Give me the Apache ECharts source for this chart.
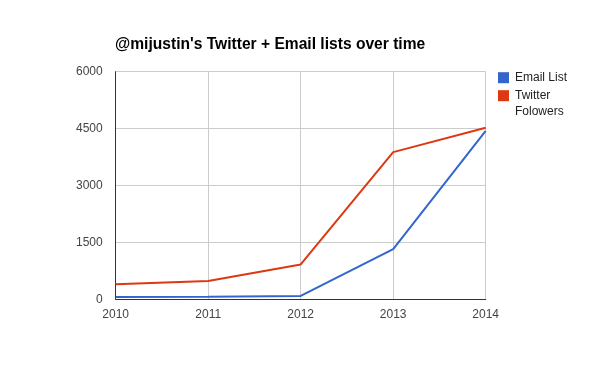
<!DOCTYPE html>
<html><head><meta charset="utf-8">
<script src="https://cdn.jsdelivr.net/npm/echarts@6/dist/echarts.min.js"></script>
<style>html,body{margin:0;padding:0;background:#fff}#c{width:600px;height:371px}</style>
</head><body><div id="c"></div>
<script>
const years = ['2010', '2011', '2012', '2013', '2014'];
const emailList = [60, 70, 90, 1320, 4440];
const twitterFollowers = [400, 480, 920, 3880, 4520];
const yTicks = [0, 1500, 3000, 4500, 6000];

const chart = echarts.init(document.getElementById('c'), null, {renderer: 'canvas'});
const font = 'Arial, "Liberation Sans", sans-serif';
chart.setOption({
  animation: false,
  backgroundColor: '#fff',
  title: {
    text: "@mijustin's Twitter + Email lists over time",
    left: 110, top: 32,
    textStyle: {fontFamily: font, fontSize: 15.6, fontWeight: 'bold', color: '#000'}
  },
  legend: {
    orient: 'vertical', left: 493, top: 64.7, itemGap: 2,
    icon: 'rect', itemWidth: 11, itemHeight: 11,
    textStyle: {fontFamily: font, fontSize: 12, color: '#222', lineHeight: 16, padding: [0, 0, 0, 1]},
    formatter: n => n === 'Twitter Folowers' ? 'Twitter' : n,
    data: [{name: 'Email List'}, {name: 'Twitter Folowers'}]
  },
  graphic: [{
    type: 'text', left: 515, top: 106,
    style: {text: 'Folowers', font: '12px ' + font, fill: '#222'}
  }],
  grid: {left: 115.7, right: 114.3, top: 71.7, bottom: 71.7, containLabel: false},
  xAxis: {
    type: 'category', data: years, boundaryGap: false,
    axisLine: {lineStyle: {color: '#333', width: 1}},
    axisTick: {show: false},
    axisLabel: {fontFamily: font, fontSize: 12, color: '#444', margin: 9},
    splitLine: {show: true, lineStyle: {color: '#ccc', width: 1}}
  },
  yAxis: {
    type: 'value', min: yTicks[0], max: yTicks[yTicks.length - 1], interval: 1500,
    axisLine: {show: true, lineStyle: {color: '#333', width: 1}},
    axisTick: {show: false},
    axisLabel: {fontFamily: font, fontSize: 12, color: '#444', margin: 13, formatter: v => String(v)},
    splitLine: {show: true, lineStyle: {color: '#ccc', width: 1}}
  },
  series: [
    {name: 'Email List', type: 'line', data: emailList, symbol: 'none',
     lineStyle: {color: '#3366cc', width: 2}, itemStyle: {color: '#3366cc'}},
    {name: 'Twitter Folowers', type: 'line', data: twitterFollowers, symbol: 'none',
     lineStyle: {color: '#dc3912', width: 2}, itemStyle: {color: '#dc3912'}}
  ]
});
</script></body></html>
